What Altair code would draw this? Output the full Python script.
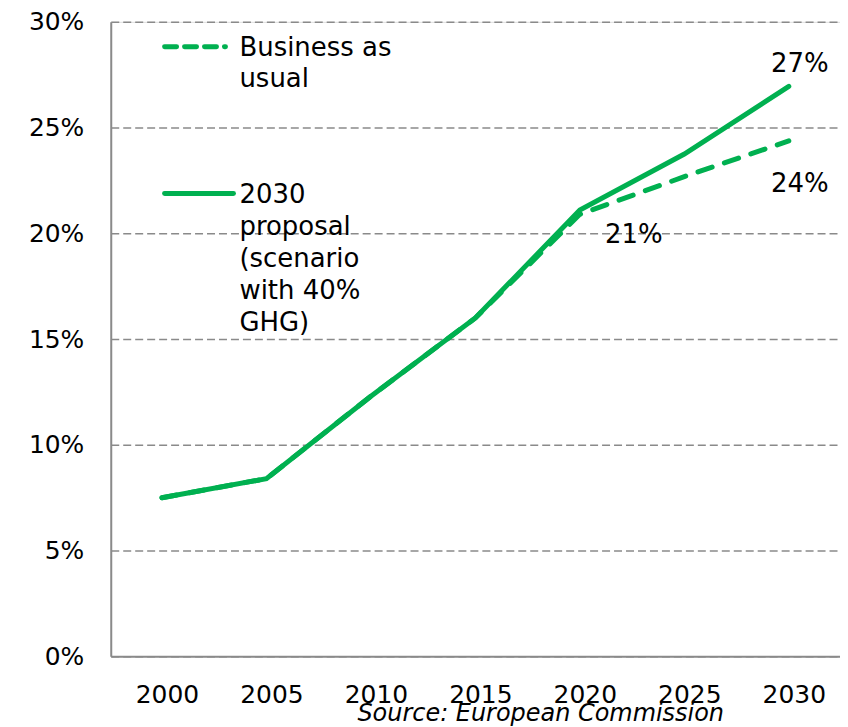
import altair as alt
import pandas as pd

years = [2000, 2005, 2010, 2015, 2020, 2025, 2030]
proposal = [0.075, 0.084, 0.123, 0.160, 0.211, 0.2375, 0.2695]
bau = [0.075, 0.084, 0.123, 0.160, 0.209, 0.2268, 0.2437]
series_names = ["2030 proposal (scenario with 40% GHG)", "Business as usual"]
legend_bau = ["Business as", "usual"]
legend_prop = ["2030", "proposal", "(scenario", "with 40%", "GHG)"]
source_text = "Source: European Commission"
x_ticks = [2000, 2005, 2010, 2015, 2020, 2025, 2030]
y_ticks = [0, 0.05, 0.10, 0.15, 0.20, 0.25, 0.30]

GREEN = "#00B050"
GRAY = "#8a8a8a"
FONT = "DejaVu Sans"

df = pd.DataFrame({
    "year": years * 2,
    "value": proposal + bau,
    "series": [series_names[0]] * len(years) + [series_names[1]] * len(years),
})

x = alt.X("year:Q", scale=alt.Scale(domain=[1997.55, 2032.45], nice=False, zero=False),
          axis=alt.Axis(values=x_ticks, format="d", title=None, grid=False, ticks=False,
                        tickSize=0, labelPadding=26, labelOffset=5, labelFontSize=25,
                        labelFont=FONT, labelColor="#000", domainColor=GRAY, domainWidth=2,
                        labelFlush=False))
y = alt.Y("value:Q", scale=alt.Scale(domain=[0, 0.30], nice=False),
          axis=alt.Axis(values=y_ticks, format=".0%", title=None, grid=True, ticks=False,
                        tickSize=0, labelPadding=27, labelFontSize=25, labelFont=FONT,
                        labelColor="#000", domainColor=GRAY, domainWidth=2,
                        gridColor=GRAY, gridDash=[8, 4], gridWidth=1.5, labelFlush=False))

base = alt.Chart(df)

bau_line = base.transform_filter(alt.datum.series == series_names[1]).mark_line(
    color=GREEN, strokeWidth=5, strokeDash=[15, 13], strokeCap="round"
).encode(x=x, y=y)

prop_line = base.transform_filter(alt.datum.series == series_names[0]).mark_line(
    color=GREEN, strokeWidth=5, strokeCap="round"
).encode(x=x, y=y)

lab27 = base.transform_filter(
    (alt.datum.series == series_names[0]) & (alt.datum.year == 2030)
).mark_text(font=FONT, fontSize=26, color="#000", align="center", baseline="alphabetic",
            dx=11, dy=-14).encode(x=x, y=y, text=alt.Text("value:Q", format=".0%"))

lab24 = base.transform_filter(
    (alt.datum.series == series_names[1]) & (alt.datum.year == 2030)
).mark_text(font=FONT, fontSize=26, color="#000", align="center", baseline="alphabetic",
            dx=11, dy=51).encode(x=x, y=y, text=alt.Text("value:Q", format=".0%"))

lab21 = base.transform_filter(
    (alt.datum.series == series_names[1]) & (alt.datum.year == 2020)
).mark_text(font=FONT, fontSize=26, color="#000", align="center", baseline="alphabetic",
            dx=54, dy=29).encode(x=x, y=y, text=alt.Text("value:Q", format=".0%"))

one = pd.DataFrame({"k": [0]})

leg_bau_sym = alt.Chart(one).mark_rule(
    color=GREEN, strokeWidth=5, strokeDash=[12, 8], strokeCap="round"
).encode(x=alt.value(54), x2=alt.value(115), y=alt.value(25))

leg_bau_txt = alt.Chart(one).mark_text(
    font=FONT, fontSize=26, color="#000", align="left", baseline="alphabetic", lineHeight=31
).encode(x=alt.value(129), y=alt.value(34.5), text=alt.value(legend_bau))

leg_prop_sym = alt.Chart(one).mark_rule(
    color=GREEN, strokeWidth=5, strokeCap="round"
).encode(x=alt.value(54), x2=alt.value(123), y=alt.value(172))

leg_prop_txt = alt.Chart(one).mark_text(
    font=FONT, fontSize=26, color="#000", align="left", baseline="alphabetic", lineHeight=32
).encode(x=alt.value(129), y=alt.value(181.5), text=alt.value(legend_prop))

source = alt.Chart(one).mark_text(
    font=FONT, fontSize=24, fontStyle="italic", color="#000", align="center",
    baseline="alphabetic"
).encode(x=alt.value(431), y=alt.value(701), text=alt.value(source_text))

chart = alt.layer(
    bau_line, prop_line, lab27, lab24, lab21,
    leg_bau_sym, leg_bau_txt, leg_prop_sym, leg_prop_txt, source
).properties(
    width=731, height=636,
    autosize=alt.AutoSizeParams(type="none"),
    padding={"left": 103, "top": 13, "right": 0, "bottom": 70},
).configure_view(stroke=None).configure(background="white")

chart.save("out.html", embed_options={"renderer": "svg", "actions": False})
